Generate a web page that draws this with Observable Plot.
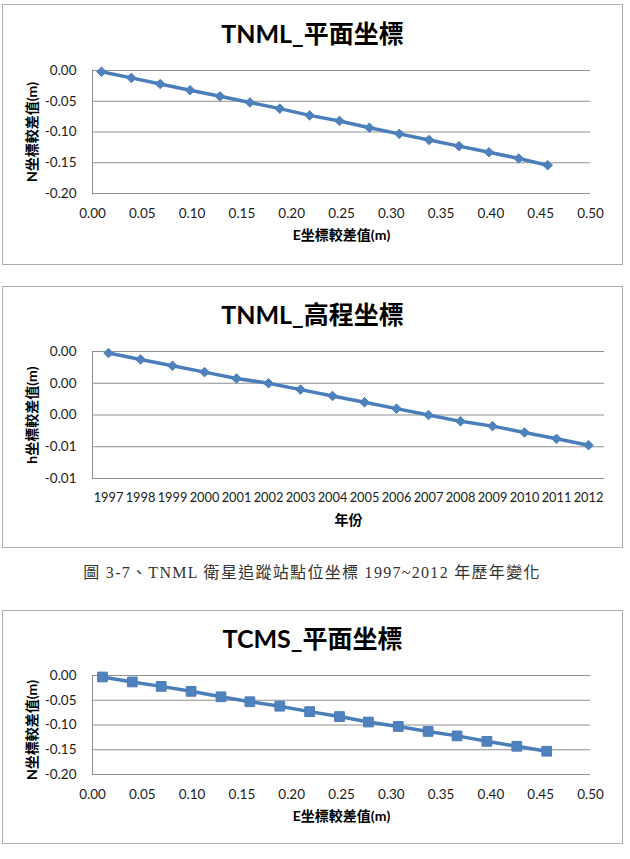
<!DOCTYPE html>
<html><head><meta charset="utf-8">
<script src="https://cdn.jsdelivr.net/npm/d3@7"></script>
<script src="https://cdn.jsdelivr.net/npm/@observablehq/plot@0.6"></script>
<style>
body{margin:0;background:#fff;width:630px;height:859px;position:relative;overflow:hidden;font-family:Lato,"Noto Sans CJK TC",sans-serif;}
.frame{position:absolute;left:2px;width:621px;box-sizing:border-box;border:1px solid #adadad;background:#fff;}
.frame svg{position:absolute;left:0;top:0;overflow:visible;}
.title{position:absolute;left:0;width:619px;text-align:center;font-weight:bold;font-size:25px;height:30px;line-height:30px;color:#000;font-family:Lato,"Noto Sans CJK TC",sans-serif;}
.caption{position:absolute;left:0;width:624px;top:561px;height:24px;line-height:24px;text-align:center;font-size:16px;color:#333;font-family:"Liberation Serif","Noto Sans CJK TC",serif;letter-spacing:1.3px;}
</style>
</head><body>
<div class="frame" id="f1" style="top:4px;height:261px;"><div class="title" style="top:13px;">TNML_平面坐標</div></div>
<div class="frame" id="f2" style="top:286px;height:262px;"><div class="title" style="top:12px;">TNML_高程坐標</div></div>
<div class="caption">圖 3-7、TNML 衛星追蹤站點位坐標 1997~2012 年歷年變化</div>
<div class="frame" id="f3" style="top:610px;height:234px;"><div class="title" style="top:12px;">TCMS_平面坐標</div></div>
<script>
// ---- data ----
const titles = ["TNML_平面坐標", "TNML_高程坐標", "TCMS_平面坐標"];
const eTitle = "E坐標較差值(m)";
const nTitle = "N坐標較差值(m)";
const hTitle = "h坐標較差值(m)";
const yearTitle = "年份";

// Chart 1: TNML plane
const e1 = [0.009,0.039,0.068,0.098,0.128,0.158,0.188,0.218,0.248,0.278,0.308,0.338,0.368,0.398,0.428,0.457];
const n1 = [-0.002,-0.012,-0.022,-0.032,-0.042,-0.052,-0.062,-0.073,-0.082,-0.093,-0.103,-0.113,-0.123,-0.133,-0.143,-0.154];

// Chart 2: TNML height
const years = [1997,1998,1999,2000,2001,2002,2003,2004,2005,2006,2007,2008,2009,2010,2011,2012];
const h2 = [-0.0001,-0.0005,-0.0009,-0.0013,-0.0017,-0.0020,-0.0024,-0.0028,-0.0032,-0.0036,-0.0040,-0.0044,-0.0047,-0.0051,-0.0055,-0.0059];

// Chart 3: TCMS plane
const e3 = [0.010,0.040,0.069,0.099,0.129,0.158,0.188,0.218,0.248,0.277,0.307,0.337,0.366,0.396,0.426,0.456];
const n3 = [-0.003,-0.013,-0.022,-0.032,-0.043,-0.053,-0.062,-0.073,-0.083,-0.094,-0.103,-0.113,-0.122,-0.133,-0.143,-0.153];

// ticks
const xTicksE = [0,0.05,0.10,0.15,0.20,0.25,0.30,0.35,0.40,0.45,0.50];
const yTicksN = [0,-0.05,-0.10,-0.15,-0.20];
const yTicksH = [0,-0.002,-0.004,-0.006,-0.008];
const yLabelsH = ["0.00","0.00","0.00","-0.01","-0.01"];

// ---- style ----
const blue = "#4a7ebb";
const markFill = "#4f81bd";
const gridColor = "#8f8f8f";
const fmt2 = d => d.toFixed(2);

function baseStyle(){
  return {fontFamily:'Lato,"Noto Sans CJK TC",sans-serif', fontSize:"13.5px", color:"#1a1a1a", background:"transparent", overflow:"visible"};
}
function axisTitles(yt, xt, ydy){
  return [
    Plot.text([yt], {text:d=>d, frameAnchor:"left", dx:-60, dy:ydy, rotate:-90, textAnchor:"middle", lineAnchor:"middle", fontWeight:"bold", fontSize:14, fill:"#000"}),
    Plot.text([xt], {text:d=>d, frameAnchor:"bottom", dy:42, textAnchor:"middle", lineAnchor:"middle", fontWeight:"bold", fontSize:14, fill:"#000"})
  ];
}

function planeChart(e, n, symbol, r, dims){
  const data = e.map((v,i)=>({e:v, n:n[i]}));
  return Plot.plot({
    width:619, height:dims.h,
    marginLeft:89, marginRight:32, marginTop:dims.mt, marginBottom:dims.mb,
    style:baseStyle(),
    x:{domain:[0,0.5]},
    y:{domain:[-0.2,0]},
    marks:[
      Plot.gridY(yTicksN, {stroke:gridColor, strokeOpacity:1, strokeWidth:1}),
      Plot.frame({anchor:"left", stroke:gridColor}),
      Plot.axisY({ticks:yTicksN, tickFormat:fmt2, tickSize:0, tickPadding:16, label:null}),
      Plot.axisX({ticks:xTicksE, tickFormat:fmt2, tickSize:0, tickPadding:15, label:null}),
      Plot.line(data, {x:"e", y:"n", stroke:blue, strokeWidth:3.5}),
      Plot.dot(data, {x:"e", y:"n", symbol, r, fill:markFill, stroke:blue, strokeWidth:1}),
      ...axisTitles(nTitle, eTitle, dims.ydy)
    ]
  });
}

const c1 = planeChart(e1, n1, "diamond2", 4.3, {h:259, mt:65, mb:71, ydy:0});
document.getElementById("f1").appendChild(c1);

const data2 = years.map((y,i)=>({year:y, h:h2[i]}));
const c2 = Plot.plot({
  width:619, height:260,
  marginLeft:89, marginRight:18, marginTop:64, marginBottom:69,
  style:baseStyle(),
  x:{type:"point", domain:years, padding:0.5},
  y:{domain:[-0.008,0]},
  marks:[
    Plot.gridY(yTicksH, {stroke:gridColor, strokeOpacity:1, strokeWidth:1}),
    Plot.frame({anchor:"left", stroke:gridColor}),
    Plot.axisY({ticks:yTicksH, tickFormat:d=>yLabelsH[yTicksH.indexOf(d)], tickSize:0, tickPadding:16, label:null}),
    Plot.axisX({tickFormat:d=>String(d), tickSize:0, tickPadding:14, label:null, fontSize:12.8}),
    Plot.line(data2, {x:"year", y:"h", stroke:blue, strokeWidth:3.5}),
    Plot.dot(data2, {x:"year", y:"h", symbol:"diamond2", r:4.3, fill:markFill, stroke:blue, strokeWidth:1}),
    ...axisTitles(hTitle, yearTitle, 0)
  ]
});
document.getElementById("f2").appendChild(c2);

const c3 = planeChart(e3, n3, "square", 5.5, {h:232, mt:64, mb:69, ydy:5});
document.getElementById("f3").appendChild(c3);
</script>
</body></html>
